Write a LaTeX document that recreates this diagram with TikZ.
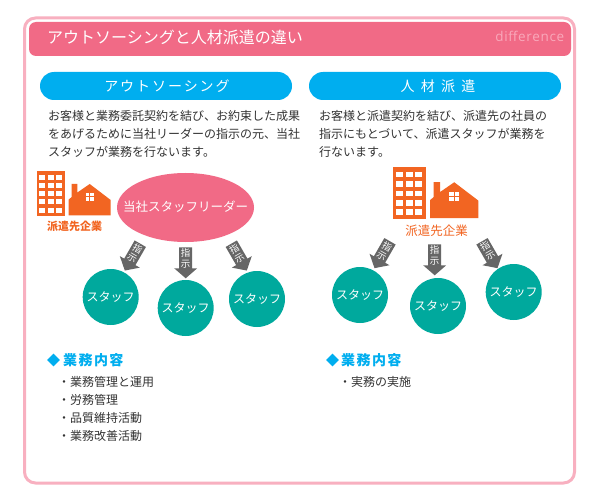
\documentclass[tikz,border=0pt]{standalone}
\usepackage{fontspec}
\setmainfont{Noto Sans CJK JP}
\newfontfamily\latinfont{Open Sans}
\usetikzlibrary{shapes.geometric}
\definecolor{pinkline}{HTML}{F8B0C0}
\definecolor{pinkbar}{HTML}{F16A86}
\definecolor{skyblue}{HTML}{00AEEF}
\definecolor{tealc}{HTML}{00A99D}
\definecolor{orangec}{HTML}{F26522}
\definecolor{grayc}{HTML}{666666}
\definecolor{bodyc}{HTML}{333333}
\definecolor{diffc}{HTML}{F9A9BB}
\newcommand{\fs}[1]{\fontsize{#1}{#1}\selectfont}
\tikzset{
  pill/.style={fill=skyblue,draw=none,rounded corners=14},
  pilltext/.style={text=white,inner sep=0,font=\fs{14}},
  body/.style={anchor=north west,inner sep=0,align=left,text=bodyc,font=\fontsize{12}{18}\selectfont},
  staff/.style={circle,fill=tealc,minimum size=56,inner sep=0,text=white,font=\fs{12}},
  head/.style={anchor=west,inner sep=0,text=skyblue,font=\bfseries\fs{14}\addfontfeature{LetterSpace=10}},
  item/.style={anchor=west,inner sep=0,text=bodyc,font=\fs{12}},
  orgtext/.style={inner sep=0,text=orangec}
}
% block arrow: #1 name, #2 top x, #3 top y, #4 angle (0 = pointing down)
\newcommand{\blockarrow}[4]{%
  \begin{scope}[shift={(#2,#3)},rotate=#4]
    \fill[grayc] (-6.5,0)--(6.5,0)--(6.5,21)--(11.5,21)--(0,31)--(-11.5,21)--(-6.5,21)--cycle;
    \node[transform shape,text=white,inner sep=0,align=center,font=\fontsize{9.5}{10.5}\selectfont] (#1) at (0,11) {指\\示};
  \end{scope}}
% buildings: #1 x, #2 y, #3 scale
\newcommand{\orgicon}[3]{%
  \begin{scope}[shift={(#1,#2)},scale=#3]
    \fill[orangec] (0,0) rectangle (28,45);
    \foreach \cx in {2.6,10.9,19.2}
      \foreach \cy in {3.7,12,20.2,28.4,36.6}
        \fill[white] (\cx,\cy) rectangle +(6,5);
    \begin{scope}[shift={(32,13)}]
      \fill[orangec] (0,15.5)--(3,13)--(3,0)--(8.7,0)--(8.7,8.5)--(21,0)--(42,16)--(42,31.3)--(0,31.3)--cycle;
      \fill[white] (16.8,8.7) rectangle (20.7,12.2);
      \fill[white] (21.5,8.7) rectangle (25.4,12.2);
      \fill[white] (16.8,13) rectangle (20.7,16.5);
      \fill[white] (21.5,13) rectangle (25.4,16.5);
    \end{scope}
  \end{scope}}
\begin{document}
\begin{tikzpicture}[x=1pt,y=-1pt]
\useasboundingbox (0,0) rectangle (600,500);
\fill[white] (0,0) rectangle (600,500);
% frame
\draw[pinkline,line width=3,rounded corners=11] (24.5,18) rectangle (574.5,483);
% title bar
\fill[pinkbar,rounded corners=7] (29,22) rectangle (571,56);
\node[anchor=west,inner sep=0,text=white,font=\fs{16}] (title) at (47,37) {アウトソーシングと人材派遣の違い};
\node[anchor=east,inner sep=0,text=diffc,font=\latinfont\fs{13.5}\addfontfeature{LetterSpace=5}] (diff) at (564.5,36.5) {difference};
% pills
\fill[pill] (40,72) rectangle (292,100);
\fill[pill] (309,72) rectangle (561,100);
\node[pilltext] (pillA) at (167,86) {\addfontfeature{LetterSpace=14}アウトソーシング};
\node[pilltext] (pillB) at (438,86) {\addfontfeature{LetterSpace=45}人材派遣};
% body text
\node[body] (bodyA) at (48,110) {お客様と業務委託契約を結び、お約束した成果\\をあげるために当社リーダーの指示の元、当社\\スタッフが業務を行ないます。};
\node[body] (bodyB) at (319,110) {お客様と派遣契約を結び、派遣先の社員の\\指示にもとづいて、派遣スタッフが業務を\\行ないます。};
% left diagram
\orgicon{36.7}{171}{1}
\node[orgtext,font=\bfseries\fs{11}] (orgA) at (74.5,226) {派遣先企業};
\fill[pinkbar] (185.5,207.5) ellipse [x radius=68.5,y radius=34.5];
\node[inner sep=0,text=white,font=\fs{12.5}] (leader) at (185.5,206.5) {当社スタッフリーダー};
\blockarrow{a1}{140.3}{243.7}{-30}
\blockarrow{a2}{185.7}{247.3}{0}
\blockarrow{a3}{231.3}{243.7}{30}
\node[staff] (s1) at (110.7,297) {スタッフ};
\node[staff] (s2) at (185.7,308) {スタッフ};
\node[staff] (s3) at (257,299) {スタッフ};
% right diagram
\orgicon{393.3}{167.3}{1.15}
\node[orgtext,font=\fs{12.5}] (orgB) at (436.5,231) {派遣先企業};
\blockarrow{b1}{390}{241.3}{-30}
\blockarrow{b2}{434.7}{244.3}{0}
\blockarrow{b3}{482}{241.3}{30}
\node[staff] (t1) at (360,295) {スタッフ};
\node[staff] (t2) at (438,306) {スタッフ};
\node[staff] (t3) at (513.7,292) {スタッフ};
% lists
\node[diamond,fill=skyblue,minimum size=13,inner sep=0] (dA) at (53.5,360) {};
\node[head] (hA) at (63,360) {業務内容};
\node[diamond,fill=skyblue,minimum size=13,inner sep=0] (dB) at (332.5,360) {};
\node[head] (hB) at (341,360) {業務内容};
\node[item] (i1) at (58,382) {・業務管理と運用};
\node[item] (i2) at (58,400) {・労務管理};
\node[item] (i3) at (58,418) {・品質維持活動};
\node[item] (i4) at (58,436) {・業務改善活動};
\node[item] (j1) at (339,382) {・実務の実施};
\end{tikzpicture}
\end{document}
